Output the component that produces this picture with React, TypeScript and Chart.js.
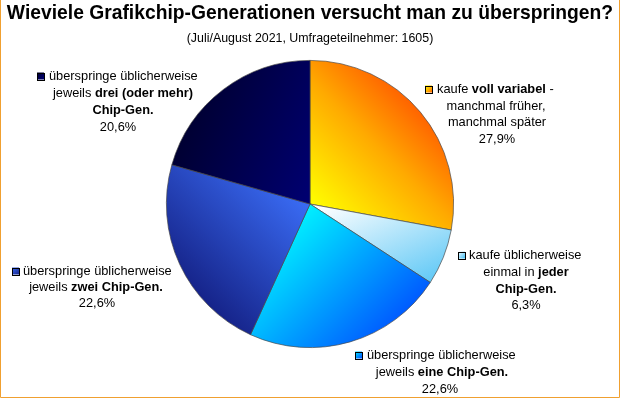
import React, { useEffect, useRef } from "react";
import { Chart, registerables } from "chart.js";

Chart.register(...registerables);

// ---- data ----
const categories = [
  "kaufe voll variabel - manchmal früher, manchmal später",
  "kaufe üblicherweise einmal in jeder Chip-Gen.",
  "überspringe üblicherweise jeweils eine Chip-Gen.",
  "überspringe üblicherweise jeweils zwei Chip-Gen.",
  "überspringe üblicherweise jeweils drei (oder mehr) Chip-Gen.",
];
const values = [27.9, 6.3, 22.6, 22.6, 20.6];
const percentLabels = ["27,9%", "6,3%", "22,6%", "22,6%", "20,6%"];
const titleText = "Wieviele Grafikchip-Generationen versucht man zu überspringen?";
const subtitleText = "(Juli/August 2021, Umfrageteilnehmer: 1605)";

// ---- styles ----
type Grad = { x0: number; y0: number; x1: number; y1: number; stops: [number, string][] };
const sliceGradients: Grad[] = [
  { x0: 0, y0: 0, x1: 0.72, y1: -0.72, stops: [[0, "#ffff00"], [0.6, "#ffaa00"], [1, "#ff6000"]] },
  { x0: 0.1, y0: 0, x1: 0.5, y1: 0.9, stops: [[0, "#ffffff"], [1, "#3cbcf4"]] },
  { x0: 0, y0: 0, x1: 0.8, y1: 0.8, stops: [[0, "#00f0ff"], [1, "#0048ff"]] },
  { x0: 0, y0: 0, x1: -0.7, y1: 0.7, stops: [[0, "#3a6cf5"], [1, "#16248a"]] },
  { x0: -1, y0: -0.3, x1: 0, y1: 0.1, stops: [[0, "#000030"], [1, "#000074"]] },
];

type Seg = [string, boolean];
type LabelLine = { segs: Seg[]; cx?: number; left?: number; y: number };
type LabelDef = { marker: [number, number]; lines: LabelLine[] };
const labelDefs: LabelDef[] = [
  {
    marker: [425, 89],
    lines: [
      { segs: [["kaufe ", false], ["voll variabel", true], [" -", false]], left: 437, y: 89 },
      { segs: [["manchmal früher,", false]], cx: 496, y: 106 },
      { segs: [["manchmal später", false]], cx: 497, y: 122 },
      { segs: [[percentLabels[0], false]], cx: 497, y: 139 },
    ],
  },
  {
    marker: [458, 255],
    lines: [
      { segs: [["kaufe üblicherweise", false]], left: 469, y: 255 },
      { segs: [["einmal in ", false], ["jeder", true]], cx: 526, y: 272 },
      { segs: [["Chip-Gen.", true]], cx: 526, y: 289 },
      { segs: [[percentLabels[1], false]], cx: 526, y: 305 },
    ],
  },
  {
    marker: [355, 355],
    lines: [
      { segs: [["überspringe üblicherweise", false]], left: 367, y: 355 },
      { segs: [["jeweils ", false], ["eine Chip-Gen.", true]], cx: 442, y: 372 },
      { segs: [[percentLabels[2], false]], cx: 440, y: 389 },
    ],
  },
  {
    marker: [12, 271],
    lines: [
      { segs: [["überspringe üblicherweise", false]], left: 23, y: 271 },
      { segs: [["jeweils ", false], ["zwei Chip-Gen.", true]], cx: 96, y: 287 },
      { segs: [[percentLabels[3], false]], cx: 97, y: 303 },
    ],
  },
  {
    marker: [37, 76],
    lines: [
      { segs: [["überspringe üblicherweise", false]], left: 49, y: 76 },
      { segs: [["jeweils ", false], ["drei (oder mehr)", true]], cx: 123, y: 93 },
      { segs: [["Chip-Gen.", true]], cx: 123, y: 110 },
      { segs: [[percentLabels[4], false]], cx: 118, y: 127 },
    ],
  },
];

const FAMILY = '"Liberation Sans", Arial, sans-serif';
const LABEL_SIZE = 12.8;

function makeGrad(ctx: CanvasRenderingContext2D, g: Grad, cx: number, cy: number, r: number) {
  const lg = ctx.createLinearGradient(cx + g.x0 * r, cy + g.y0 * r, cx + g.x1 * r, cy + g.y1 * r);
  g.stops.forEach(([o, c]) => lg.addColorStop(o, c));
  return lg;
}

const decorPlugin = {
  id: "decor",
  afterDraw(chart: any) {
    const ctx: CanvasRenderingContext2D = chart.ctx;
    ctx.save();
    // border
    ctx.strokeStyle = "#f0a030";
    ctx.lineWidth = 1;
    ctx.beginPath();
    ctx.moveTo(0.5, 0);
    ctx.lineTo(0.5, 397.5);
    ctx.lineTo(619.5, 397.5);
    ctx.lineTo(619.5, 0);
    ctx.stroke();

    // title
    ctx.fillStyle = "#000";
    ctx.textAlign = "center";
    ctx.textBaseline = "alphabetic";
    ctx.font = `bold 19.3px ${FAMILY}`;
    ctx.fillText(titleText, 310, 19);
    ctx.font = `12.4px ${FAMILY}`;
    ctx.fillText(subtitleText, 310, 42);

    // labels
    ctx.textAlign = "left";
    ctx.textBaseline = "middle";
    const regular = `${LABEL_SIZE}px ${FAMILY}`;
    const bold = `bold ${LABEL_SIZE}px ${FAMILY}`;
    labelDefs.forEach((ld, i) => {
      const [mx, my] = ld.marker;
      const s = 7;
      const g = sliceGradients[i];
      const lg = ctx.createLinearGradient(mx, my - s / 2, mx + s, my + s / 2);
      g.stops.forEach(([o, c]) => lg.addColorStop(o, c));
      ctx.fillStyle = lg;
      ctx.fillRect(mx, my - s / 2, s, s);
      ctx.strokeStyle = "#000";
      ctx.lineWidth = 1;
      ctx.strokeRect(mx + 0.5, Math.round(my - s / 2) + 0.5, s, s);
      ld.lines.forEach((ln) => {
        let total = 0;
        ln.segs.forEach(([t, b]) => {
          ctx.font = b ? bold : regular;
          total += ctx.measureText(t).width;
        });
        let x = ln.left !== undefined ? ln.left : (ln.cx as number) - total / 2;
        ln.segs.forEach(([t, b]) => {
          ctx.font = b ? bold : regular;
          ctx.fillStyle = "#000";
          ctx.fillText(t, x, ln.y);
          x += ctx.measureText(t).width;
        });
      });
    });
    ctx.restore();
  },
};

export default function App() {
  const ref = useRef<HTMLCanvasElement | null>(null);
  useEffect(() => {
    document.body.style.margin = "0";
    const canvas = ref.current!;
    const chart = new Chart(canvas, {
      type: "pie",
      data: {
        labels: categories,
        datasets: [
          {
            data: values,
            backgroundColor: (c: any) => {
              const area = c.chart.chartArea;
              const g = sliceGradients[c.dataIndex] || sliceGradients[0];
              if (!area) return g.stops[0][1];
              const cx = (area.left + area.right) / 2;
              const cy = (area.top + area.bottom) / 2;
              const r = Math.min(area.right - area.left, area.bottom - area.top) / 2;
              return makeGrad(c.chart.ctx, g, cx, cy, r);
            },
            borderColor: "rgba(70,70,70,0.85)",
            borderWidth: 0.8,
          },
        ],
      },
      options: {
        responsive: false,
        animation: false,
        devicePixelRatio: 1,
        rotation: 0,
        layout: { padding: { left: 166, right: 166, top: 60, bottom: 50 } },
        plugins: {
          legend: { display: false },
          tooltip: { enabled: false },
          title: { display: false },
        },
      },
      plugins: [decorPlugin],
    });
    return () => chart.destroy();
  }, []);
  return (
    <div style={{ position: "absolute", left: 0, top: 0, width: 620, height: 398, background: "#fff" }}>
      <canvas ref={ref} width={620} height={398} />
    </div>
  );
}
